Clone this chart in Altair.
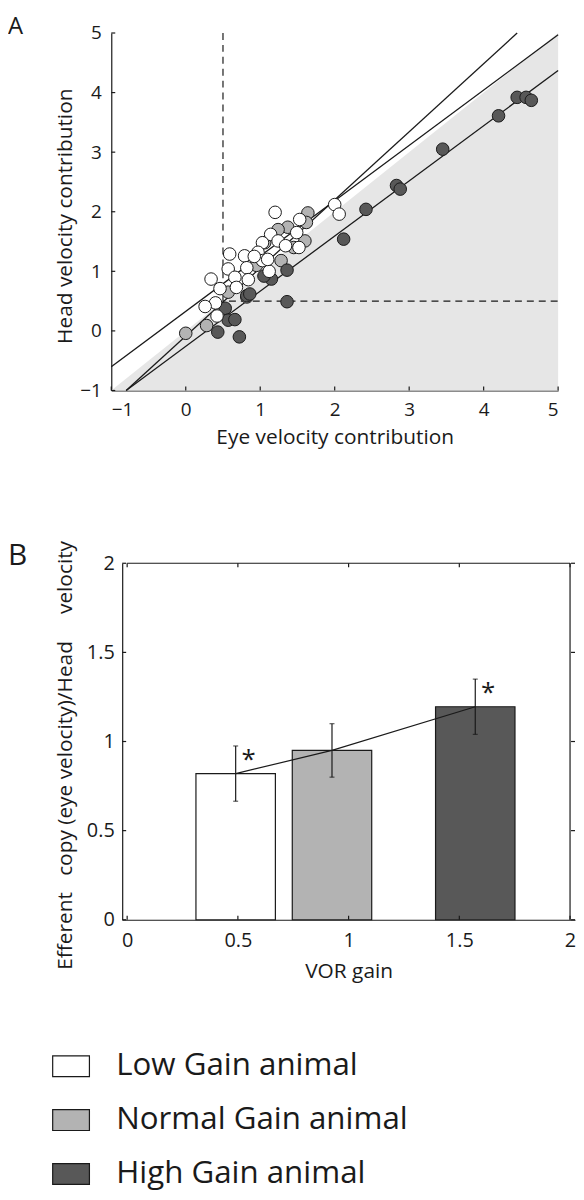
import altair as alt
import pandas as pd

FONT = "Open Sans"
INK = "#1a1a1a"

# ---------------- Panel A data ----------------
low_x = [2.00, 2.06, 1.20, 1.53, 1.49, 1.52, 1.14, 1.24, 1.34, 1.03, 0.97, 1.03, 1.12, 0.59,
         0.79, 0.82, 0.57, 0.66, 0.84, 0.68, 0.46, 0.34, 0.40, 0.26, 0.42, 1.10, 0.92]
low_y = [2.12, 1.96, 1.99, 1.87, 1.65, 1.40, 1.62, 1.51, 1.43, 1.48, 1.32, 1.18, 1.00, 1.29,
         1.26, 1.06, 1.04, 0.90, 0.86, 0.73, 0.71, 0.87, 0.47, 0.41, 0.25, 1.20, 1.25]
norm_x = [0.00, 0.28, 1.64, 1.62, 1.60, 1.37, 1.28, 0.82, 0.57, 1.06, 1.24, 1.45, 0.95]
norm_y = [-0.04, 0.09, 1.98, 1.82, 1.51, 1.74, 1.18, 0.57, 0.65, 1.48, 1.70, 1.40, 1.10]
high_x = [4.45, 4.57, 4.64, 4.20, 3.45, 2.83, 2.88, 2.42, 2.12, 1.36, 1.36, 1.15, 1.05, 0.82,
          0.53, 0.57, 0.66, 0.43, 0.72, 0.86]
high_y = [3.92, 3.92, 3.87, 3.61, 3.05, 2.44, 2.38, 2.04, 1.54, 1.02, 0.49, 0.87, 0.92, 0.59,
          0.38, 0.18, 0.19, -0.02, -0.10, 0.62]

# regression lines (end points)
fit_group = ["Low Gain animal", "Low Gain animal", "Normal Gain animal", "Normal Gain animal",
             "High Gain animal", "High Gain animal"]
fit_x = [-1.0, 5.0, -0.8, 4.45, -0.8, 5.0]
fit_y = [-0.6, 4.97, -1.0, 5.0, -1.0, 4.37]

unity_x = [-1, 5]
unity_y = [-1, 5]
crit_x = [0.5, 0.5, 5.0]
crit_y = [5.0, 0.5, 0.5]
a_ticks = [-1, 0, 1, 2, 3, 4, 5]

# ---------------- Panel B data ----------------
gain_labels = ["Low Gain animal", "Normal Gain animal", "High Gain animal"]
vor_gain = [0.49, 0.925, 1.572]
ratio_mean = [0.82, 0.95, 1.195]
ratio_err = [0.155, 0.15, 0.155]
signif = ["*", "", "*"]
b_ticks = [0, 0.5, 1, 1.5, 2]
fills = ["#ffffff", "#b3b3b3", "#585858"]

color = alt.Color("group:N", scale=alt.Scale(domain=gain_labels, range=fills), legend=None)

TICK_FS = 19
TITLE_FS = 21

# ================= Panel A =================
AW, AH = 450, 360
xa = alt.Scale(domain=[-1, 5], nice=False, zero=False)
ya = alt.Scale(domain=[-1, 5], nice=False, zero=False)

xa_axis = alt.Axis(values=a_ticks, format="d", ticks=False, grid=False, domainColor=INK,
                   domainWidth=1.2, labelFontSize=TICK_FS, labelPadding=10, labelColor=INK,
                   title="Eye velocity contribution", titleFontSize=TITLE_FS,
                   titleFontWeight="normal", titleColor=INK, titleX=AW / 2, titleY=53,
                   titleBaseline="alphabetic", titleAlign="center")
ya_axis = alt.Axis(values=a_ticks, format="d", ticks=False, grid=False, domainColor=INK,
                   domainWidth=1.2, labelFontSize=TICK_FS, labelPadding=10, labelColor=INK,
                   title="Head velocity contribution", titleFontSize=TITLE_FS,
                   titleFontWeight="normal", titleColor=INK, titleX=-40, titleY=184,
                   titleBaseline="alphabetic", titleAlign="center", titleAngle=-90)

unity_df = pd.DataFrame({"x": unity_x, "y": unity_y})
shade = alt.Chart(unity_df).mark_area(color="#e6e6e6").encode(
    x=alt.X("x:Q", scale=xa, axis=xa_axis),
    y=alt.Y("y:Q", scale=ya, axis=ya_axis),
    y2=alt.datum(-1),
)

crit_df = pd.DataFrame({"x": crit_x, "y": crit_y, "o": [0, 1, 2]})
crit = alt.Chart(crit_df).mark_line(color=INK, strokeWidth=1.2, strokeDash=[7, 5]).encode(
    x="x:Q", y="y:Q", order="o:Q")

fit_df = pd.DataFrame({"group": fit_group, "x": fit_x, "y": fit_y})
fits = alt.Chart(fit_df).mark_line(color=INK, strokeWidth=1.3).encode(
    x="x:Q", y="y:Q", detail="group:N")

pts = pd.concat([
    pd.DataFrame({"x": norm_x, "y": norm_y, "group": "Normal Gain animal"}),
    pd.DataFrame({"x": high_x, "y": high_y, "group": "High Gain animal"}),
    pd.DataFrame({"x": low_x, "y": low_y, "group": "Low Gain animal"}),
], ignore_index=True)
pts["o"] = range(len(pts))
points = alt.Chart(pts).mark_circle(size=160, opacity=1, stroke=INK, strokeWidth=1).encode(
    x="x:Q", y="y:Q", color=color, order="o:Q")

tick_df = pd.DataFrame({"v": a_ticks})
a_yt = alt.Chart(tick_df).mark_rule(color=INK, strokeWidth=1.2).encode(
    y="v:Q", x=alt.value(0), x2=alt.value(4))
a_xt = alt.Chart(tick_df).mark_rule(color=INK, strokeWidth=1.2).encode(
    x="v:Q", y=alt.value(AH), y2=alt.value(AH - 4))

a_lab = alt.Chart(pd.DataFrame({"t": ["A"]})).mark_text(
    fontSize=24, align="left", baseline="top", color=INK).encode(
    text="t:N", x=alt.value(-104), y=alt.value(-18))

panelA = alt.layer(shade, crit, fits, points, a_yt, a_xt, a_lab).properties(width=AW, height=AH)

# ================= Panel B =================
BW, BH = 467, 359
xb = alt.Scale(domain=[0, 2], nice=False, zero=False, range=[11, 467])
yb = alt.Scale(domain=[0, 2], nice=False, zero=False)

xb_axis = alt.Axis(values=b_ticks, format="~g", ticks=False, grid=False, domainColor=INK,
                   domainWidth=1.2, labelFontSize=20, labelPadding=11, labelColor=INK,
                   title="VOR gain", titleFontSize=TITLE_FS, titleFontWeight="normal",
                   titleColor=INK, titleX=239, titleY=58, titleBaseline="alphabetic",
                   titleAlign="center")
ytitle = ("Efferent\u00a0\u00a0\u00a0copy (eye velocity)/Head"
          "\u00a0\u00a0\u00a0\u00a0\u00a0velocity")
yb_axis = alt.Axis(values=b_ticks, format="~g", ticks=False, grid=False, domainColor=INK,
                   domainWidth=1.2, labelFontSize=20, labelPadding=8, labelColor=INK, offset=-11,
                   title=ytitle, titleFontSize=TITLE_FS, titleFontWeight="normal",
                   titleColor=INK, titleX=-51, titleY=193, titleBaseline="alphabetic",
                   titleAlign="center", titleAngle=-90)

bdf = pd.DataFrame({"group": gain_labels, "gain": vor_gain, "mean": ratio_mean,
                    "err": ratio_err, "sig": signif})
bdf["lo"] = bdf["mean"] - bdf["err"]
bdf["hi"] = bdf["mean"] + bdf["err"]

bars = alt.Chart(bdf).mark_bar(size=80, stroke=INK, strokeWidth=1.2).encode(
    x=alt.X("gain:Q", scale=xb, axis=xb_axis),
    y=alt.Y("mean:Q", scale=yb, axis=yb_axis),
    color=color,
)
conn = alt.Chart(bdf).mark_line(color=INK, strokeWidth=1.2).encode(x="gain:Q", y="mean:Q")
ebar = alt.Chart(bdf).mark_rule(color=INK, strokeWidth=1.2).encode(x="gain:Q", y="lo:Q", y2="hi:Q")
cap_hi = alt.Chart(bdf).mark_tick(color=INK, orient="horizontal", size=5, thickness=1.2).encode(
    x="gain:Q", y="hi:Q")
cap_lo = alt.Chart(bdf).mark_tick(color=INK, orient="horizontal", size=5, thickness=1.2).encode(
    x="gain:Q", y="lo:Q")
stars = alt.Chart(bdf).mark_text(fontSize=26, dx=13, dy=14, baseline="middle", color=INK).encode(
    x="gain:Q", y="hi:Q", text="sig:N")

frame_df = pd.DataFrame({"v": [2]})
top_line = alt.Chart(frame_df).mark_rule(color=INK, strokeWidth=1.2).encode(
    y="v:Q", x=alt.datum(0), x2=alt.datum(2))
right_line = alt.Chart(frame_df).mark_rule(color=INK, strokeWidth=1.2).encode(
    x="v:Q", y=alt.datum(0), y2=alt.datum(2))

btick = pd.DataFrame({"v": b_ticks})
b_yl = alt.Chart(btick).mark_rule(color=INK, strokeWidth=1.2).encode(
    y="v:Q", x=alt.value(11), x2=alt.value(15))
b_yr = alt.Chart(btick).mark_rule(color=INK, strokeWidth=1.2).encode(
    y="v:Q", x=alt.value(463), x2=alt.value(467))
b_xb = alt.Chart(btick).mark_rule(color=INK, strokeWidth=1.2).encode(
    x="v:Q", y=alt.value(BH), y2=alt.value(BH - 4))
b_xt = alt.Chart(btick).mark_rule(color=INK, strokeWidth=1.2).encode(
    x="v:Q", y=alt.value(0), y2=alt.value(4))

b_lab = alt.Chart(pd.DataFrame({"t": ["B"]})).mark_text(
    fontSize=30, align="left", baseline="top", color=INK).encode(
    text="t:N", x=alt.value(-104), y=alt.value(-22))

panelB = alt.layer(bars, conn, ebar, cap_hi, cap_lo, stars, top_line, right_line,
                   b_yl, b_yr, b_xb, b_xt, b_lab).properties(width=BW, height=BH)

# ================= Legend =================
# the legend view starts 174 px below panel B; its rows sit a little above that start
leg_df = pd.DataFrame({"group": gain_labels})
ly = alt.Y("group:N", scale=alt.Scale(type="point", domain=gain_labels, range=[-26.5, 82],
                                      padding=0), axis=None)
leg_sw = alt.Chart(leg_df).mark_bar(height=21, stroke=INK, strokeWidth=1.2).encode(
    y=ly, x=alt.value(-59), x2=alt.value(-22), color=color)
leg_tx = alt.Chart(leg_df).mark_text(fontSize=31.5, align="left", baseline="middle",
                                     color=INK).encode(y=ly, x=alt.value(5), text="group:N")
legend = alt.layer(leg_sw, leg_tx).properties(width=450, height=95)

chart = alt.VConcatChart(vconcat=[panelA, panelB, legend], bounds="flush", spacing=174,
                         padding={"left": 0, "top": 3, "right": 0, "bottom": 0})
chart = chart.configure_view(strokeWidth=0).configure_axis(
    labelFont=FONT, titleFont=FONT).configure_text(font=FONT)

chart.save("out.html", embed_options={"renderer": "svg", "actions": False})
